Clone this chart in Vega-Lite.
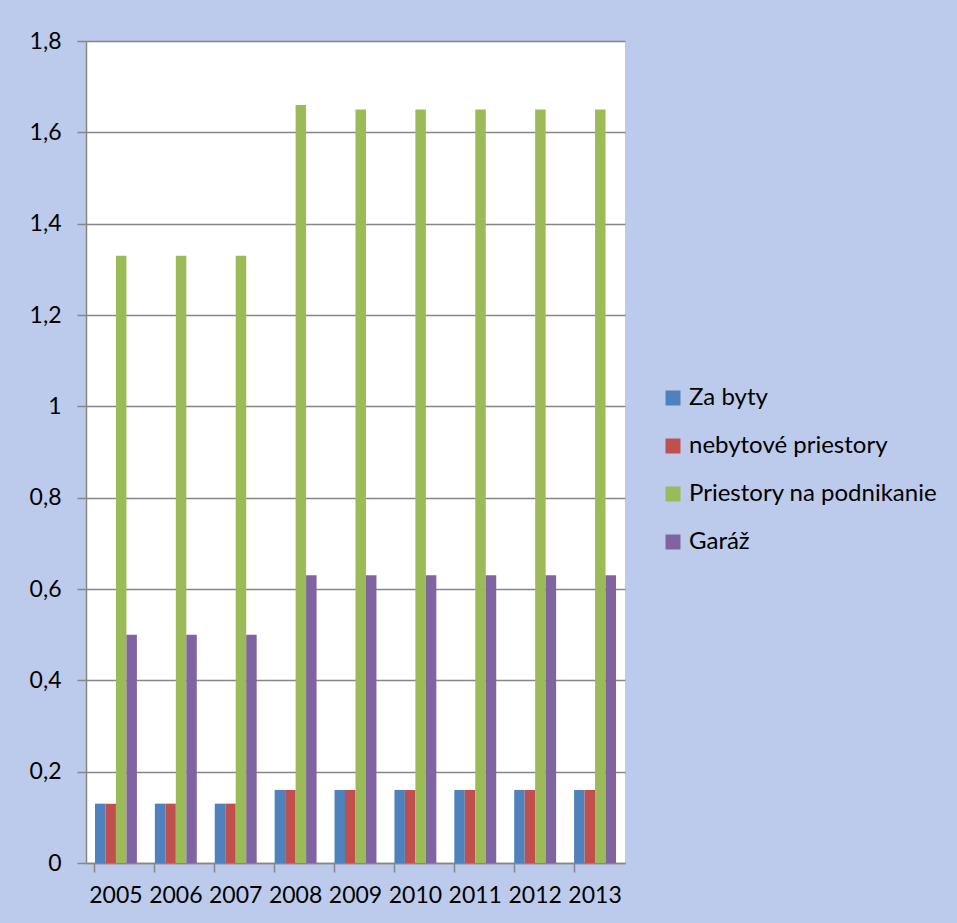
{
  "$schema": "https://vega.github.io/schema/vega-lite/v6.json",
  "autosize": "none",
  "width": 539,
  "height": 822,
  "padding": {"left": 86, "top": 41, "right": 332, "bottom": 60},
  "background": "#bccbeb",
  "config": {
    "view": {"fill": "white", "stroke": null},
    "font": "Lato",
    "axis": {"labelFont": "Lato", "labelColor": "black"}
  },
  "data": {
    "values": [
      {"rok": "2005", "typ": "Za byty", "v": 0.13},
      {"rok": "2005", "typ": "nebytové priestory", "v": 0.13},
      {"rok": "2005", "typ": "Priestory na podnikanie", "v": 1.33},
      {"rok": "2005", "typ": "Garáž", "v": 0.5},
      {"rok": "2006", "typ": "Za byty", "v": 0.13},
      {"rok": "2006", "typ": "nebytové priestory", "v": 0.13},
      {"rok": "2006", "typ": "Priestory na podnikanie", "v": 1.33},
      {"rok": "2006", "typ": "Garáž", "v": 0.5},
      {"rok": "2007", "typ": "Za byty", "v": 0.13},
      {"rok": "2007", "typ": "nebytové priestory", "v": 0.13},
      {"rok": "2007", "typ": "Priestory na podnikanie", "v": 1.33},
      {"rok": "2007", "typ": "Garáž", "v": 0.5},
      {"rok": "2008", "typ": "Za byty", "v": 0.16},
      {"rok": "2008", "typ": "nebytové priestory", "v": 0.16},
      {"rok": "2008", "typ": "Priestory na podnikanie", "v": 1.66},
      {"rok": "2008", "typ": "Garáž", "v": 0.63},
      {"rok": "2009", "typ": "Za byty", "v": 0.16},
      {"rok": "2009", "typ": "nebytové priestory", "v": 0.16},
      {"rok": "2009", "typ": "Priestory na podnikanie", "v": 1.65},
      {"rok": "2009", "typ": "Garáž", "v": 0.63},
      {"rok": "2010", "typ": "Za byty", "v": 0.16},
      {"rok": "2010", "typ": "nebytové priestory", "v": 0.16},
      {"rok": "2010", "typ": "Priestory na podnikanie", "v": 1.65},
      {"rok": "2010", "typ": "Garáž", "v": 0.63},
      {"rok": "2011", "typ": "Za byty", "v": 0.16},
      {"rok": "2011", "typ": "nebytové priestory", "v": 0.16},
      {"rok": "2011", "typ": "Priestory na podnikanie", "v": 1.65},
      {"rok": "2011", "typ": "Garáž", "v": 0.63},
      {"rok": "2012", "typ": "Za byty", "v": 0.16},
      {"rok": "2012", "typ": "nebytové priestory", "v": 0.16},
      {"rok": "2012", "typ": "Priestory na podnikanie", "v": 1.65},
      {"rok": "2012", "typ": "Garáž", "v": 0.63},
      {"rok": "2013", "typ": "Za byty", "v": 0.16},
      {"rok": "2013", "typ": "nebytové priestory", "v": 0.16},
      {"rok": "2013", "typ": "Priestory na podnikanie", "v": 1.65},
      {"rok": "2013", "typ": "Garáž", "v": 0.63}
    ]
  },
  "mark": {"type": "bar"},
  "encoding": {
    "x": {
      "field": "rok",
      "type": "nominal",
      "scale": {"paddingInner": 0.3, "paddingOuter": 0.15},
      "axis": {
        "title": null,
        "labelAngle": 0,
        "labelFontSize": 23,
        "labelPadding": 12,
        "bandPosition": 0,
        "tickSize": 9,
        "tickColor": "#868686",
        "domainColor": "#868686",
        "tickWidth": 1.5,
        "domainWidth": 1.5
      }
    },
    "xOffset": {
      "field": "typ",
      "type": "nominal",
      "sort": ["Za byty", "nebytové priestory", "Priestory na podnikanie", "Garáž"]
    },
    "y": {
      "field": "v",
      "type": "quantitative",
      "scale": {"domain": [0, 1.8], "nice": false},
      "axis": {
        "title": null,
        "values": [0, 0.2, 0.4, 0.6, 0.8, 1, 1.2, 1.4, 1.6, 1.8],
        "format": ".1~f",
        "labelExpr": "replace(datum.label, '.', ',')",
        "labelFontSize": 23,
        "labelPadding": 16,
        "tickSize": 9,
        "tickColor": "#868686",
        "domainColor": "#868686",
        "gridColor": "#868686",
        "tickWidth": 1.5,
        "domainWidth": 1.5,
        "gridWidth": 1.5
      }
    },
    "color": {
      "field": "typ",
      "type": "nominal",
      "sort": ["Za byty", "nebytové priestory", "Priestory na podnikanie", "Garáž"],
      "scale": {
        "domain": ["Za byty", "nebytové priestory", "Priestory na podnikanie", "Garáž"],
        "range": ["#4f81bd", "#c0504d", "#9bbb59", "#8064a2"]
      },
      "legend": {
        "title": null,
        "orient": "none",
        "legendX": 575,
        "legendY": 345,
        "symbolType": "square",
        "symbolSize": 225,
        "symbolStrokeWidth": 0,
        "labelFontSize": 24,
        "labelFont": "Lato",
        "labelColor": "black",
        "labelOffset": 4,
        "rowPadding": 24,
        "labelLimit": 400
      }
    }
  }
}
